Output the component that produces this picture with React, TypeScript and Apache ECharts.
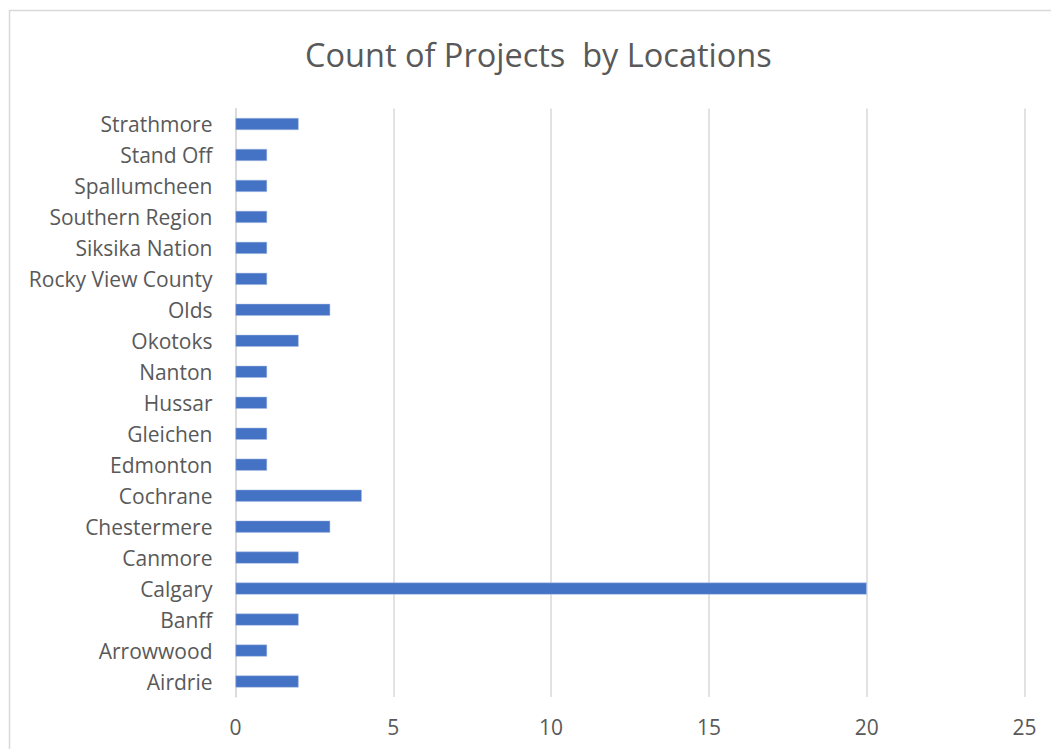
import React, { useEffect, useRef } from "react";
import * as echarts from "echarts";

const categories = [
  "Airdrie", "Arrowwood", "Banff", "Calgary", "Canmore", "Chestermere", "Cochrane",
  "Edmonton", "Gleichen", "Hussar", "Nanton", "Okotoks", "Olds", "Rocky View County",
  "Siksika Nation", "Southern Region", "Spallumcheen", "Stand Off", "Strathmore",
];
const counts = [2, 1, 2, 20, 2, 3, 4, 1, 1, 1, 1, 2, 3, 1, 1, 1, 1, 1, 2];
const xTicks = { min: 0, max: 25, interval: 5 };
const titleText = "Count of Projects  by Locations";

const FONT = "'Open Sans', sans-serif";

export default function App() {
  const ref = useRef<HTMLDivElement>(null);
  useEffect(() => {
    if (!ref.current) return;
    const chart = echarts.init(ref.current, undefined, { renderer: "svg" });
    chart.setOption({
      animation: false,
      backgroundColor: "#ffffff",
      title: {
        text: titleText,
        left: 300,
        top: 33,
        textStyle: { fontFamily: FONT, fontSize: 32.5, fontWeight: "normal", color: "#595959" },
      },
      graphic: [
        {
          type: "rect",
          shape: { x: 9.5, y: 10.5, width: 1100, height: 800 },
          style: { fill: "none", stroke: "#d9d9d9", lineWidth: 1.5 },
          silent: true,
        },
      ],
      grid: { left: 235.5, right: 26.5, top: 108.5, bottom: 52 },
      xAxis: {
        type: "value",
        min: xTicks.min,
        max: xTicks.max,
        interval: xTicks.interval,
        axisLine: { show: false },
        axisTick: { show: false },
        axisLabel: { fontFamily: FONT, fontSize: 21, color: "#595959", margin: 19 },
        splitLine: { lineStyle: { color: "#d9d9d9", width: 1.5 } },
      },
      yAxis: {
        type: "category",
        data: categories,
        axisLine: { show: true, lineStyle: { color: "#d9d9d9", width: 1.5 } },
        axisTick: { show: false },
        axisLabel: { fontFamily: FONT, fontSize: 21, color: "#595959", margin: 23 },
      },
      series: [
        {
          type: "bar",
          data: counts,
          barWidth: 12,
          itemStyle: { color: "#4472C4", borderColor: "#aabfe6", borderWidth: 0.5 },
        },
      ],
    });
    return () => chart.dispose();
  }, []);
  return (
    <div
      ref={ref}
      style={{ position: "absolute", left: 0, top: 0, width: 1051, height: 749 }}
    />
  );
}
